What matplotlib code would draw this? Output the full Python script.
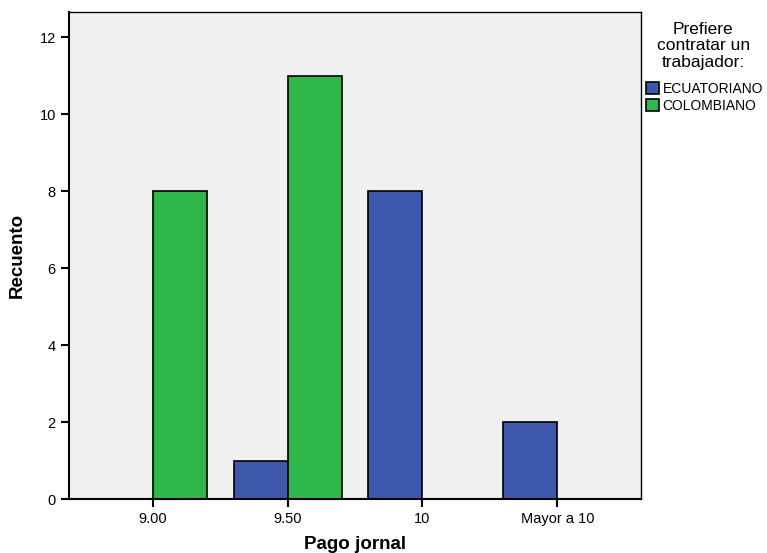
import matplotlib.pyplot as plt
import numpy as np

plt.rcParams['font.family'] = ['Liberation Sans', 'DejaVu Sans']

categorias = ['9.00', '9.50', '10', 'Mayor a 10']
ecuatoriano = [0, 1, 8, 2]
colombiano = [8, 11, 0, 0]
series = ['ECUATORIANO', 'COLOMBIANO']

azul = '#3E58AC'
verde = '#2EB84B'

fig = plt.figure(figsize=(7.67, 5.53), dpi=100)
ax = fig.add_axes([0.09, 0.0976, 0.7457, 0.8804])
ax.set_facecolor('#F0F0F0')

x = np.arange(len(categorias))
w = 0.4
b1 = ax.bar(x - w/2, ecuatoriano, w, color=azul, edgecolor='black', linewidth=1.2)
b2 = ax.bar(x + w/2, colombiano, w, color=verde, edgecolor='black', linewidth=1.2)

ax.set_xlim(-0.62, 3.62)
ax.set_ylim(0, 12.65)
ax.set_xticks(x)
ax.set_xticklabels(categorias, fontsize=10.5)
ax.set_yticks(range(0, 13, 2))
ax.tick_params(axis='y', labelsize=10.5, length=6, width=1.5)
ax.tick_params(axis='x', length=6, width=1.5)
for s in ax.spines.values():
    s.set_linewidth(1.0)
ax.spines['left'].set_linewidth(1.5)
ax.spines['bottom'].set_linewidth(1.5)

ax.set_xlabel('Pago jornal', fontsize=13.5, fontweight='bold', labelpad=7)
ax.set_ylabel('Recuento', fontsize=13.5, fontweight='bold', labelpad=10)

fig.text(0.917, 0.96, 'Prefiere\ncontratar un\ntrabajador:', ha='center', va='top',
         fontsize=12.5, linespacing=1.1)
leg = fig.legend([b1, b2], series, loc='upper left', bbox_to_anchor=(0.835, 0.862),
                 frameon=False, fontsize=10, handlelength=0.9, handleheight=0.9,
                 handletextpad=0.3, labelspacing=0.2, borderaxespad=0)

fig.savefig('out.png', dpi=100)
